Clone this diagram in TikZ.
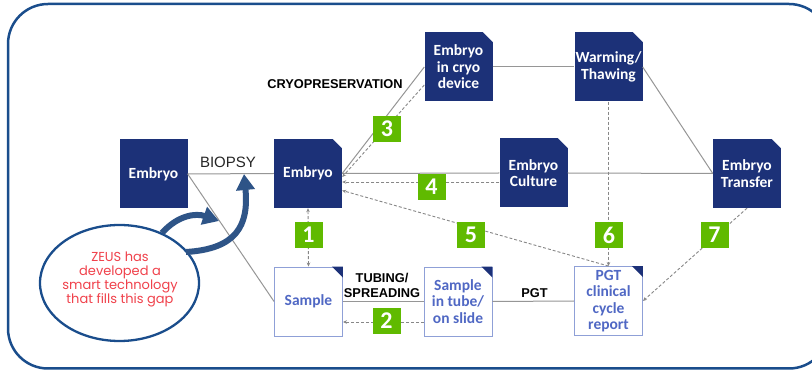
\documentclass[tikz,border=0pt]{standalone}
\usepackage{fontspec}
\setmainfont{Carlito}
\newfontfamily\labfont{Liberation Sans}
\newfontfamily\popfont{Poppins}
\usetikzlibrary{arrows.meta,calc,shapes.geometric}
\definecolor{navy}{RGB}{28,49,120}
\definecolor{framec}{RGB}{26,77,140}
\definecolor{arrowc}{RGB}{46,84,135}
\definecolor{greenc}{RGB}{96,186,0}
\definecolor{wbord}{RGB}{143,160,215}
\definecolor{wtext}{RGB}{80,104,196}
\definecolor{redtext}{RGB}{240,65,75}
\definecolor{solidc}{RGB}{150,150,150}
\definecolor{dashc}{RGB}{135,135,135}
\tikzset{
  darkbox/.style={rectangle, fill=navy, text=white, minimum width=68pt, minimum height=69pt, inner sep=0pt, align=center, font=\bfseries\fontsize{15.5}{16.5}\selectfont},
  whitebox/.style={rectangle, draw=wbord, line width=0.9pt, fill=white, text=wtext, minimum width=68pt, minimum height=69pt, inner sep=0pt, align=center, font=\bfseries\fontsize{15.5}{16.3}\selectfont},
  numbox/.style={rectangle, fill=greenc, text=white, minimum width=28pt, minimum height=26pt, inner sep=0pt, font=\bfseries\fontsize{24}{24}\selectfont},
  solidl/.style={draw=solidc, line width=1pt},
  dashl/.style={draw=dashc, line width=0.9pt, dash pattern=on 3pt off 2pt, -{Stealth[length=4pt,width=3.5pt]}},
  dashlb/.style={draw=dashc, line width=0.9pt, dash pattern=on 3pt off 2pt, {Stealth[length=4pt,width=3.5pt]}-{Stealth[length=4pt,width=3.5pt]}},
  boldlab/.style={font=\labfont\bfseries\fontsize{12.8}{15}\selectfont, text=black, inner sep=0pt, align=center},
  biglab/.style={font=\labfont\fontsize{15}{18}\selectfont, text=black!85, inner sep=0pt},
  thickarrow/.style={draw=arrowc, line width=6pt, -{Triangle[width=18pt,length=16pt]}}
}
\begin{document}
\begin{tikzpicture}[x=1pt,y=-1pt]
\useasboundingbox (0,0) rectangle (812,371);
\clip (0,0) rectangle (812,371);
\fill[white] (0,0) rectangle (812,371);
% frame
\draw[framec, line width=2.5pt, rounded corners=40pt] (8,4) rectangle (829,368.5);

% boxes
\node[darkbox] (e0) at (153.5,174) {Embryo};
\node[darkbox] (e1) at (308,173.5) {Embryo};
\node[darkbox] (cryo) at (458.5,67) {Embryo\\in cryo\\device};
\node[darkbox] (warm) at (608.5,67) {Warming/\\Thawing};
\node[darkbox] (cult) at (533.5,173) {Embryo\\Culture};
\node[darkbox] (trans) at (747,173.5) {Embryo\\Transfer};
\node[whitebox] (samp) at (308.5,301.5) {Sample};
\node[whitebox] (tube) at (458,301.5) {Sample\\in tube/\\on slide};
\node[whitebox] (pgt) at (608.5,301) {PGT\\clinical\\cycle\\report};

% folded corners
\foreach \n in {e1,cryo,warm,cult,trans}{
  \fill[white] ($(\n.north east)+(-10,-0.5)$) -- ($(\n.north east)+(0.5,-0.5)$) -- ($(\n.north east)+(0.5,10)$) -- cycle;
}
\foreach \n in {samp,tube,pgt}{
  \fill[navy] ($(\n.north east)+(-11,0)$) -- (\n.north east) -- ($(\n.north east)+(0,11)$) -- cycle;
}

% solid connectors
\draw[solidl] (e0.east) -- (e1.west);
\draw[solidl] (e0.east) -- (samp.west);
\draw[solidl] (e1.east) -- (cult.west);
\draw[solidl] (cult.east) -- (trans.west);
\draw[solidl] (e1.east) -- (cryo.west);
\draw[solidl] (cryo.east) -- (warm.west);
\draw[solidl] (warm.east) -- (trans.west);
\draw[solidl] (samp.east) -- (tube.west);
\draw[solidl] (tube.east) -- (pgt.west);

% dashed connectors
\draw[dashlb] (samp.north) -- (e1.south);
\draw[dashl] ($(tube.west)+(0,20.5)$) -- ($(samp.east)+(0,20.5)$);
\draw[dashl] ($(cryo.west)+(0,18)$) -- ($(e1.east)+(0,3.5)$);
\draw[dashl] ($(cult.west)+(0,9)$) -- ($(e1.east)+(0,8.5)$);
\draw[dashl] (pgt.north) -- ($(e1.east)+(0,17)$);
\draw[dashl] (warm.south) -- (pgt.north);
\draw[dashl] (trans.south) -- (pgt.east);

% numbers
\node[numbox] (n1) at (308.5,235) {1};
\node[numbox] (n2) at (386.5,321) {2};
\node[numbox] (n3) at (387,129) {3};
\node[numbox] (n4) at (431.5,187) {4};
\node[numbox] (n5) at (471,235) {5};
\node[numbox] (n6) at (609,235) {6};
\node[numbox] (n7) at (714.5,235) {7};

% labels
\node[biglab] (biopsy) at (228,162) {BIOPSY};
\node[boldlab] (cryolab) at (335,84) {CRYOPRESERVATION};
\node[boldlab] (tubelab) at (382,285.5) {TUBING/\\SPREADING};
\node[boldlab] (pgtlab) at (534.5,293.5) {PGT};

% ZEUS ellipse
\node[ellipse, draw=framec, line width=2.3pt, fill=white, minimum width=159pt, minimum height=116pt, inner sep=0pt] (zeus) at (119.5,283) {};
\node[text=redtext, font=\popfont\fontsize{13}{14}\selectfont, align=center, inner sep=0pt] (zeustext) at (120,279) {ZEUS has\\developed a\\smart technology\\that fills this gap};

% thick arrows
\coordinate (a1s) at (162,233);
\coordinate (a1e) at (219,221);
\coordinate (a2s) at (186,252);
\coordinate (a2e) at (244,174);
\draw[thickarrow] (a1s) .. controls (178,215) and (196,213) .. (a1e);
\draw[thickarrow] (a2s) .. controls (236,249) and (249,226) .. (a2e);
\end{tikzpicture}
\end{document}
